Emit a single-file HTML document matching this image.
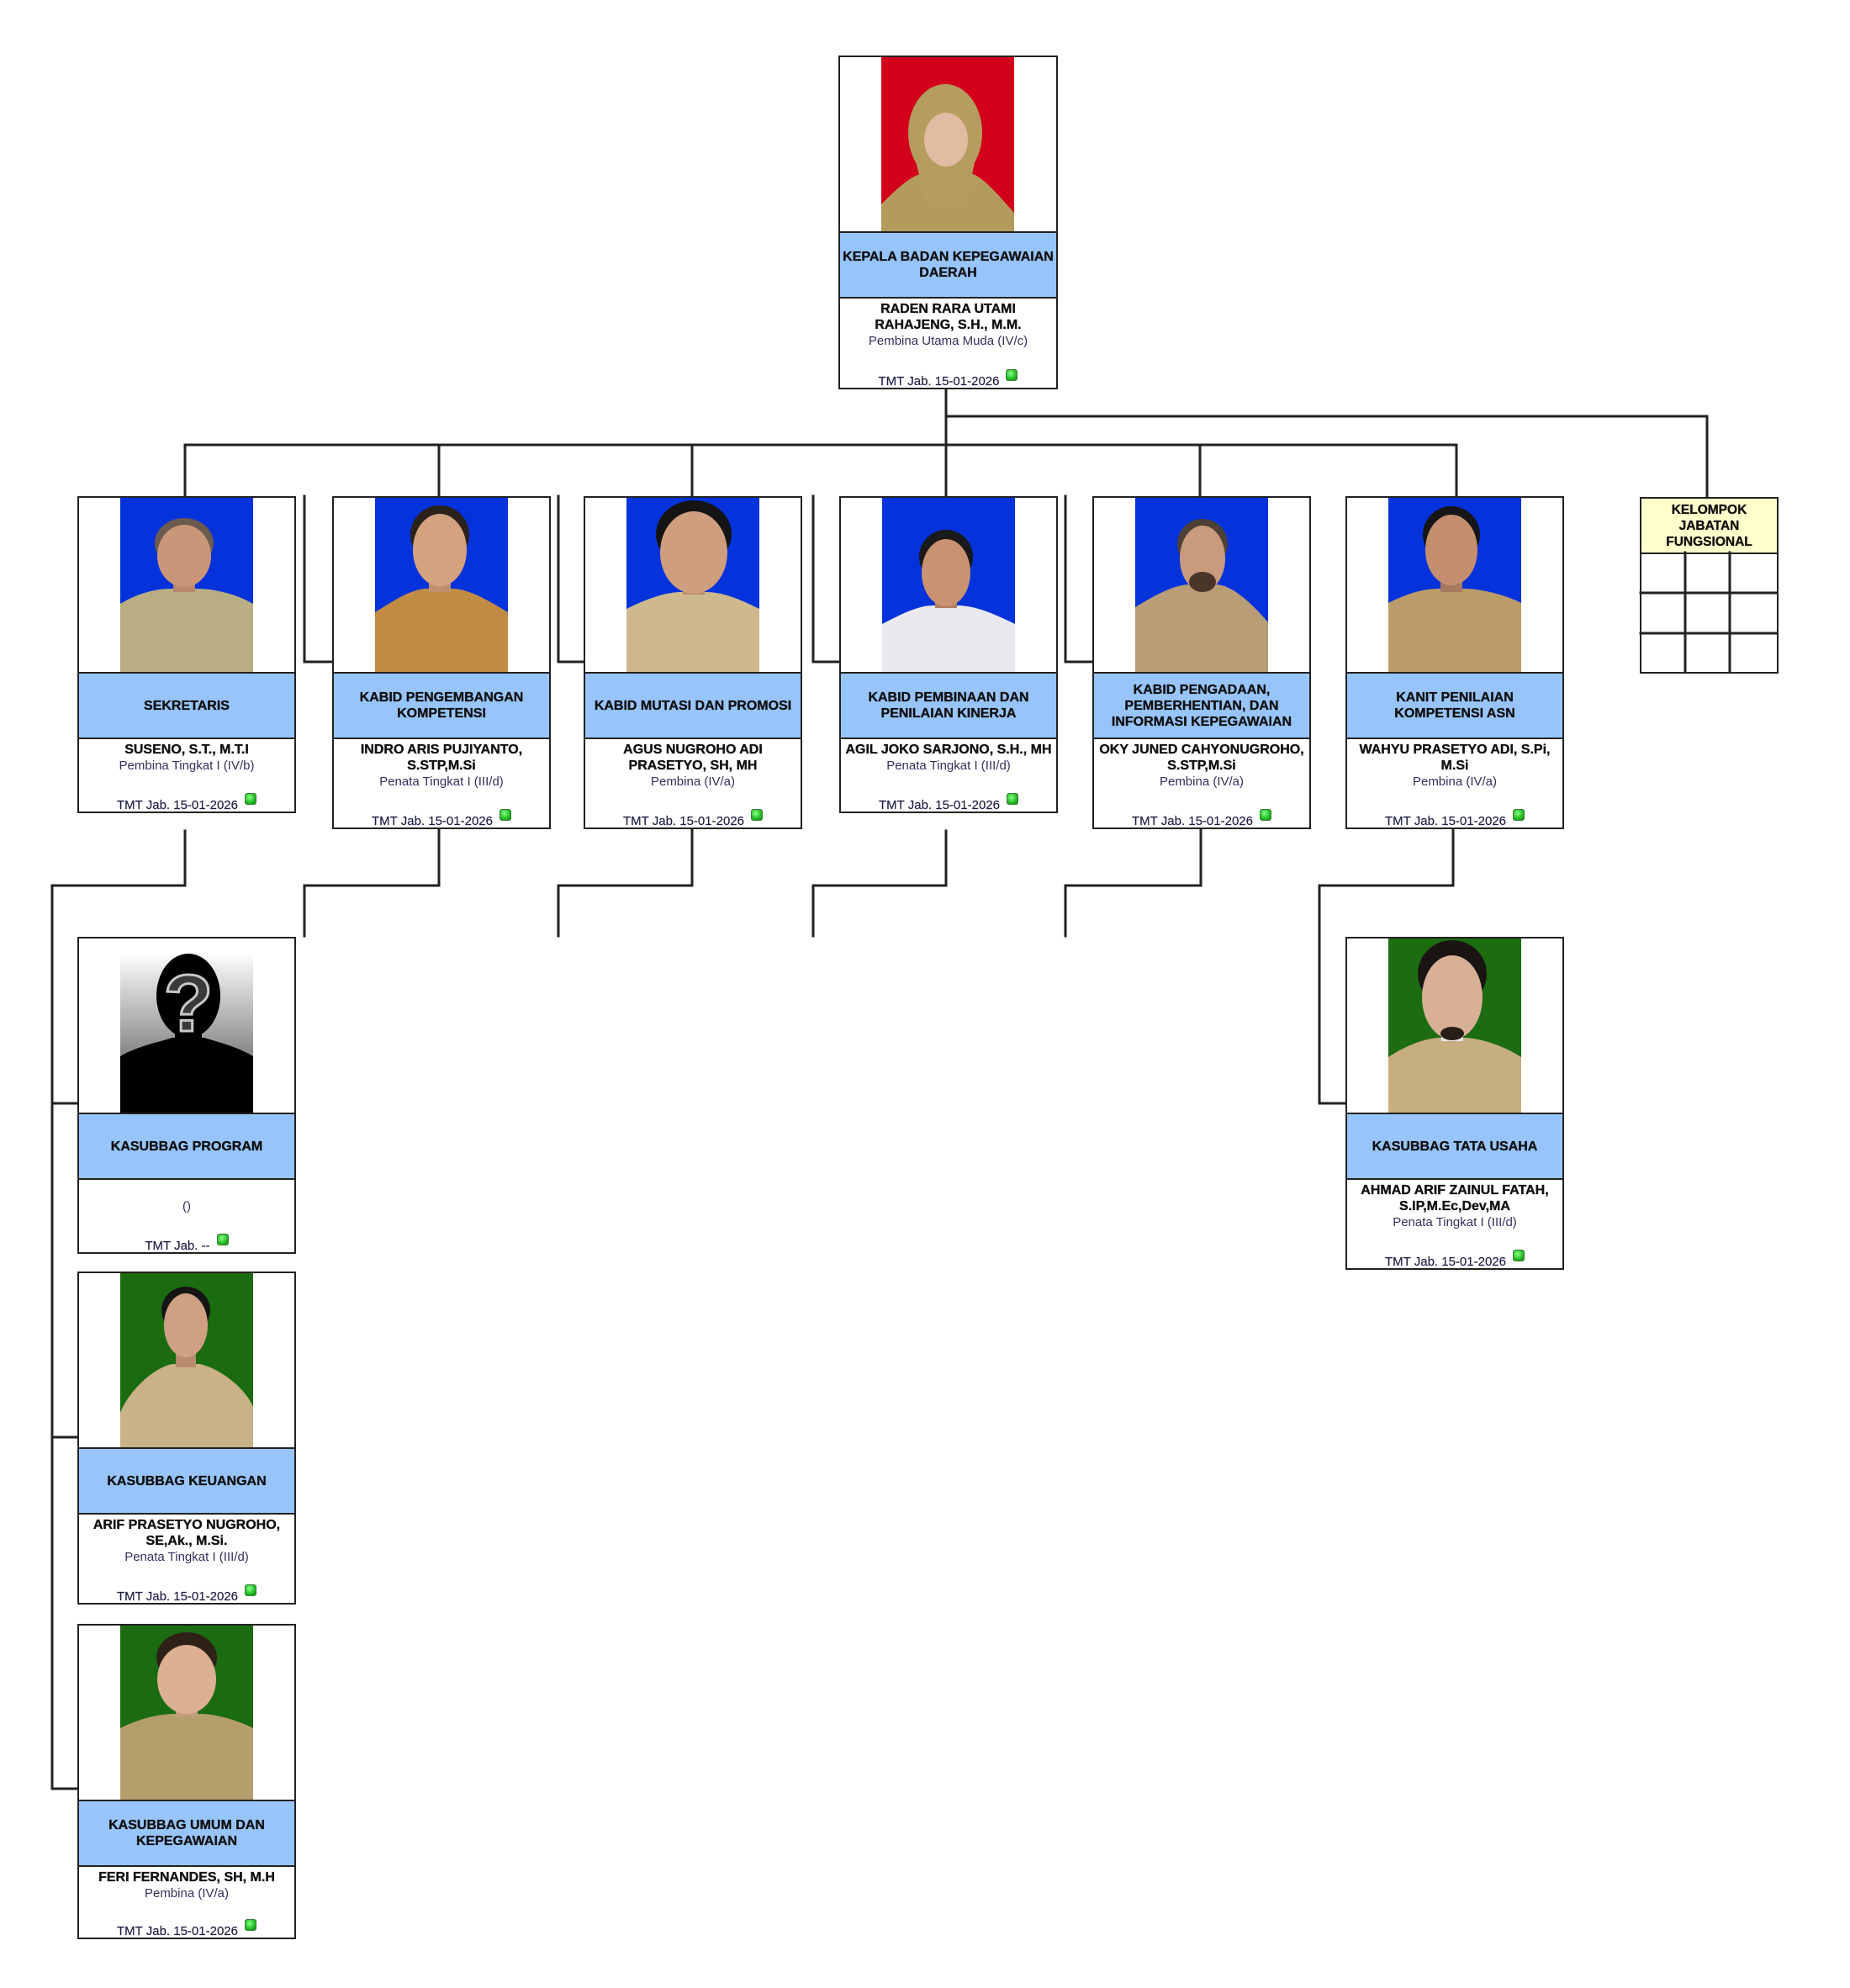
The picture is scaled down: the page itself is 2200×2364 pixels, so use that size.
<!DOCTYPE html>
<html>
<head>
<meta charset="utf-8">
<style>
html,body{margin:0;padding:0}
body{width:2200px;height:2364px;position:relative;background:#fff;font-family:"Liberation Sans",Arial,sans-serif;overflow:hidden}
.box{position:absolute;width:260px;border:2px solid #222;box-sizing:border-box;background:#fff}
.ph{position:absolute;left:49px;top:0;width:158px;height:207px;overflow:hidden}
.ph svg{display:block;width:158px;height:207px}
.band{position:absolute;left:0;right:0;top:207px;height:80px;background:#97c5fb;border-top:2px solid #222;border-bottom:2px solid #222;box-sizing:border-box;display:flex;align-items:center;justify-content:center;text-align:center;font-weight:bold;font-size:16px;line-height:19px;color:#111;-webkit-text-stroke:0.35px #111}
.low{position:absolute;left:0;right:0;top:287px;bottom:0;text-align:center;padding-top:3px;line-height:19px}
.nm{font-weight:bold;font-size:16px;color:#111;-webkit-text-stroke:0.35px #111}
.rk{font-size:15px;color:#35305e}
.tmt{position:absolute;left:0;right:0;bottom:-2px;font-size:15px;color:#1c1c44;line-height:19px;text-align:center;white-space:nowrap;-webkit-text-stroke:0.15px #1c1c44}
.dot{display:inline-block;width:12px;height:12px;background:radial-gradient(circle at 40% 35%,#8f8,#2b2 60%,#181);border:1px solid #3a7a3a;border-radius:3px;position:relative;top:-8px;margin-left:8px;vertical-align:middle;-webkit-text-stroke:0}
.kel{position:absolute;left:1950px;top:591px;width:165px;height:210px;border:2px solid #222;box-sizing:border-box}
.kelh{position:absolute;left:0;right:0;top:0;height:66px;background:#ffffcc;border-bottom:2px solid #222;box-sizing:border-box;display:flex;align-items:center;justify-content:center;text-align:center;font-weight:bold;font-size:15.5px;line-height:19px;color:#111;-webkit-text-stroke:0.35px #111}
svg.lines{position:absolute;left:0;top:0;z-index:5}
</style>
</head>
<body>

<!-- TOP BOX -->
<div class="box" style="left:997px;top:66px;width:261px;height:397px">
  <div class="ph">
    <svg viewBox="0 0 158 207" preserveAspectRatio="none">
      <rect width="158" height="207" fill="#d3001b"/>
      <path d="M0,175 C15,160 35,140 50,138 L105,138 C120,140 140,165 158,185 V207 H0 Z" fill="#b29b5d"/>
      <ellipse cx="76" cy="90" rx="44" ry="58" fill="#b49d5e"/>
      <path d="M40,120 L112,120 L100,178 L55,178 Z" fill="#b49d5e"/>
      <ellipse cx="77" cy="98" rx="26" ry="32" fill="#e2bba3"/>
    </svg>
  </div>
  <div class="band">KEPALA BADAN KEPEGAWAIAN<br>DAERAH</div>
  <div class="low"><span class="nm">RADEN RARA UTAMI<br>RAHAJENG, S.H., M.M.</span><br><span class="rk">Pembina Utama Muda (IV/c)</span></div>
  <div class="tmt">TMT Jab. 15-01-2026<span class="dot"></span></div>
</div>

<!-- ROW: SEKRETARIS -->
<div class="box" style="left:92px;top:590px;height:377px">
  <div class="ph">
    <svg viewBox="0 0 158 207" preserveAspectRatio="none">
      <rect width="158" height="207" fill="#0433dc"/>
      <path d="M0,126 C20,114 41,108 61,108 L91,108 C111,108 138,114 158,126 V207 H0 Z" fill="#b8ad83"/>
      <rect x="63" y="90" width="26" height="22" fill="#b8876c"/>
      <ellipse cx="76" cy="54" rx="35" ry="30" fill="#6b5a4e"/>
      <ellipse cx="76" cy="69" rx="32" ry="37" fill="#c99679"/>
    </svg>
  </div>
  <div class="band">SEKRETARIS</div>
  <div class="low"><span class="nm">SUSENO, S.T., M.T.I</span><br><span class="rk">Pembina Tingkat I (IV/b)</span></div>
  <div class="tmt">TMT Jab. 15-01-2026<span class="dot"></span></div>
</div>

<!-- ROW: PENGEMBANGAN -->
<div class="box" style="left:395px;top:590px;height:396px">
  <div class="ph">
    <svg viewBox="0 0 158 207" preserveAspectRatio="none">
      <rect width="158" height="207" fill="#0433dc"/>
      <path d="M0,136 C20,124 42,108 62,108 L92,108 C112,108 138,124 158,136 V207 H0 Z" fill="#c28b44"/>
      <rect x="64" y="86" width="26" height="26" fill="#c0906e"/>
      <ellipse cx="77" cy="44" rx="35" ry="35" fill="#2b221c"/>
      <ellipse cx="77" cy="62" rx="32" ry="43" fill="#d4a27f"/>
    </svg>
  </div>
  <div class="band">KABID PENGEMBANGAN<br>KOMPETENSI</div>
  <div class="low"><span class="nm">INDRO ARIS PUJIYANTO,<br>S.STP,M.Si</span><br><span class="rk">Penata Tingkat I (III/d)</span></div>
  <div class="tmt">TMT Jab. 15-01-2026<span class="dot"></span></div>
</div>

<!-- ROW: MUTASI -->
<div class="box" style="left:694px;top:590px;height:396px">
  <div class="ph">
    <svg viewBox="0 0 158 207" preserveAspectRatio="none">
      <rect width="158" height="207" fill="#0433dc"/>
      <path d="M0,132 C20,122 45,112 65,112 L95,112 C115,112 138,122 158,132 V207 H0 Z" fill="#cdb98d"/>
      <rect x="67" y="95" width="26" height="20" fill="#b98c70"/>
      <ellipse cx="80" cy="43" rx="45" ry="40" fill="#141414"/>
      <ellipse cx="80" cy="65" rx="40" ry="49" fill="#cf9e7f"/>
    </svg>
  </div>
  <div class="band">KABID MUTASI DAN PROMOSI</div>
  <div class="low"><span class="nm">AGUS NUGROHO ADI<br>PRASETYO, SH, MH</span><br><span class="rk">Pembina (IV/a)</span></div>
  <div class="tmt">TMT Jab. 15-01-2026<span class="dot"></span></div>
</div>

<!-- ROW: PEMBINAAN -->
<div class="box" style="left:998px;top:590px;height:377px">
  <div class="ph">
    <svg viewBox="0 0 158 207" preserveAspectRatio="none">
      <rect width="158" height="207" fill="#0433dc"/>
      <path d="M0,150 C20,140 41,128 61,128 L91,128 C111,128 138,140 158,150 V207 H0 Z" fill="#e8e8ee"/>
      <rect x="63" y="115" width="26" height="16" fill="#b07e60"/>
      <ellipse cx="76" cy="70" rx="32" ry="32" fill="#1a1a1a"/>
      <ellipse cx="76" cy="89" rx="29" ry="40" fill="#c99270"/>
    </svg>
  </div>
  <div class="band">KABID PEMBINAAN DAN<br>PENILAIAN KINERJA</div>
  <div class="low"><span class="nm">AGIL JOKO SARJONO, S.H., MH</span><br><span class="rk">Penata Tingkat I (III/d)</span></div>
  <div class="tmt">TMT Jab. 15-01-2026<span class="dot"></span></div>
</div>

<!-- ROW: PENGADAAN -->
<div class="box" style="left:1299px;top:590px;height:396px">
  <div class="ph">
    <svg viewBox="0 0 158 207" preserveAspectRatio="none">
      <rect width="158" height="207" fill="#0433dc"/>
      <path d="M0,130 C20,118 45,103 65,103 L95,103 C115,103 138,125 158,148 V207 H0 Z" fill="#b99d77"/>
      <rect x="67" y="95" width="26" height="12" fill="#a8826a"/>
      <ellipse cx="80" cy="55" rx="30" ry="30" fill="#4d4036"/>
      <ellipse cx="80" cy="72" rx="27" ry="39" fill="#c99a7e"/>
      <ellipse cx="80" cy="100" rx="16" ry="12" fill="#4a3628"/>
    </svg>
  </div>
  <div class="band">KABID PENGADAAN,<br>PEMBERHENTIAN, DAN<br>INFORMASI KEPEGAWAIAN</div>
  <div class="low"><span class="nm">OKY JUNED CAHYONUGROHO,<br>S.STP,M.Si</span><br><span class="rk">Pembina (IV/a)</span></div>
  <div class="tmt">TMT Jab. 15-01-2026<span class="dot"></span></div>
</div>

<!-- ROW: KANIT -->
<div class="box" style="left:1600px;top:590px;height:396px">
  <div class="ph">
    <svg viewBox="0 0 158 207" preserveAspectRatio="none">
      <rect width="158" height="207" fill="#0433dc"/>
      <path d="M0,125 C20,115 40,108 60,108 L90,108 C110,108 138,115 158,125 V207 H0 Z" fill="#bb9c68"/>
      <rect x="62" y="92" width="26" height="20" fill="#a87a5e"/>
      <ellipse cx="75" cy="44" rx="34" ry="34" fill="#161616"/>
      <ellipse cx="75" cy="62" rx="31" ry="42" fill="#c58e6e"/>
    </svg>
  </div>
  <div class="band">KANIT PENILAIAN<br>KOMPETENSI ASN</div>
  <div class="low"><span class="nm">WAHYU PRASETYO ADI, S.Pi,<br>M.Si</span><br><span class="rk">Pembina (IV/a)</span></div>
  <div class="tmt">TMT Jab. 15-01-2026<span class="dot"></span></div>
</div>

<!-- KELOMPOK -->
<div class="kel">
  <div class="kelh">KELOMPOK<br>JABATAN<br>FUNGSIONAL</div>
</div>

<!-- SUB: PROGRAM -->
<div class="box" style="left:92px;top:1114px;height:377px">
  <div class="ph">
    <svg viewBox="0 0 158 207" preserveAspectRatio="none">
      <defs>
        <linearGradient id="gp" x1="0" y1="0" x2="0" y2="1">
          <stop offset="0.08" stop-color="#ffffff"/>
          <stop offset="0.65" stop-color="#8a8a8a"/>
          <stop offset="1" stop-color="#999999"/>
        </linearGradient>
      </defs>
      <rect width="158" height="207" fill="url(#gp)"/>
      <path d="M0,140 C20,128 50,122 62,118 L100,118 C112,122 138,128 158,140 V207 H0 Z" fill="#000"/>
      <rect x="65" y="100" width="32" height="25" fill="#000"/>
      <ellipse cx="81" cy="68" rx="38" ry="50" fill="#000"/>
      <text x="81" y="110" font-size="96" text-anchor="middle" fill="#3a3a3a" stroke="#c8c8c8" stroke-width="3" font-family="Liberation Sans, sans-serif" font-weight="bold">?</text>
    </svg>
  </div>
  <div class="band">KASUBBAG PROGRAM</div>
  <div class="low"><span class="nm">&nbsp;</span><br><span class="rk">()</span></div>
  <div class="tmt">TMT Jab. --<span class="dot"></span></div>
</div>

<!-- SUB: KEUANGAN -->
<div class="box" style="left:92px;top:1512px;height:396px">
  <div class="ph">
    <svg viewBox="0 0 158 207" preserveAspectRatio="none">
      <rect width="158" height="207" fill="#1b6b11"/>
      <path d="M0,166 C10,140 40,112 62,108 L94,108 C116,112 148,135 158,159 V207 H0 Z" fill="#c9b287"/>
      <rect x="66" y="90" width="24" height="22" fill="#b88b70"/>
      <ellipse cx="78" cy="44" rx="29" ry="28" fill="#151515"/>
      <ellipse cx="78" cy="62" rx="26" ry="38" fill="#d0a083"/>
    </svg>
  </div>
  <div class="band">KASUBBAG KEUANGAN</div>
  <div class="low"><span class="nm">ARIF PRASETYO NUGROHO,<br>SE,Ak., M.Si.</span><br><span class="rk">Penata Tingkat I (III/d)</span></div>
  <div class="tmt">TMT Jab. 15-01-2026<span class="dot"></span></div>
</div>

<!-- SUB: UMUM -->
<div class="box" style="left:92px;top:1931px;height:375px">
  <div class="ph">
    <svg viewBox="0 0 158 207" preserveAspectRatio="none">
      <rect width="158" height="207" fill="#1b6b10"/>
      <path d="M0,122 C20,112 44,105 64,105 L94,105 C114,105 138,112 158,122 V207 H0 Z" fill="#b39e6c"/>
      <rect x="66" y="92" width="26" height="16" fill="#c79c7e"/>
      <ellipse cx="79" cy="38" rx="36" ry="30" fill="#2e2118"/>
      <ellipse cx="79" cy="64" rx="35" ry="41" fill="#dcb092"/>
    </svg>
  </div>
  <div class="band">KASUBBAG UMUM DAN<br>KEPEGAWAIAN</div>
  <div class="low"><span class="nm">FERI FERNANDES, SH, M.H</span><br><span class="rk">Pembina (IV/a)</span></div>
  <div class="tmt">TMT Jab. 15-01-2026<span class="dot"></span></div>
</div>

<!-- SUB: TATA USAHA -->
<div class="box" style="left:1600px;top:1114px;height:396px">
  <div class="ph">
    <svg viewBox="0 0 158 207" preserveAspectRatio="none">
      <rect width="158" height="207" fill="#1c6c12"/>
      <path d="M0,141 C20,128 43,118 63,118 L89,118 C109,118 138,128 158,141 V207 H0 Z" fill="#c7ae81"/>
      <rect x="63" y="108" width="26" height="14" fill="#e8e8e8"/>
      <ellipse cx="76" cy="42" rx="41" ry="40" fill="#1a1512"/>
      <ellipse cx="76" cy="70" rx="36" ry="50" fill="#d8b096"/>
      <ellipse cx="76" cy="113" rx="14" ry="8" fill="#2a1e18"/>
    </svg>
  </div>
  <div class="band">KASUBBAG TATA USAHA</div>
  <div class="low"><span class="nm">AHMAD ARIF ZAINUL FATAH,<br>S.IP,M.Ec,Dev,MA</span><br><span class="rk">Penata Tingkat I (III/d)</span></div>
  <div class="tmt">TMT Jab. 15-01-2026<span class="dot"></span></div>
</div>

<!-- CONNECTORS -->
<svg class="lines" width="2200" height="2364" viewBox="0 0 2200 2364">
  <g fill="none" stroke="#222" stroke-width="3" stroke-linecap="square" stroke-linejoin="miter">
    <path d="M1125 463 V589"/>
    <path d="M1125 495 H2030 V590"/>
    <path d="M220 589 V529 H1732 V589"/>
    <path d="M522 529 V589"/>
    <path d="M823 529 V589"/>
    <path d="M1427 529 V589"/>
    <path d="M362 590 V787 H395"/>
    <path d="M664 590 V787 H694"/>
    <path d="M967 590 V787 H998"/>
    <path d="M1267 590 V787 H1299"/>
    <path d="M220 988 V1053 H62 V2127 H92"/>
    <path d="M62 1312 H92"/>
    <path d="M62 1709 H92"/>
    <path d="M522 987 V1053 H362 V1113"/>
    <path d="M823 987 V1053 H664 V1113"/>
    <path d="M1125 988 V1053 H967 V1113"/>
    <path d="M1428 987 V1053 H1267 V1113"/>
    <path d="M1728 987 V1053 H1569 V1312 H1600"/>
    <path d="M2004 657 V799"/>
    <path d="M2057 657 V799"/>
    <path d="M1951 705 H2113"/>
    <path d="M1951 753 H2113"/>
  </g>
</svg>

</body>
</html>
